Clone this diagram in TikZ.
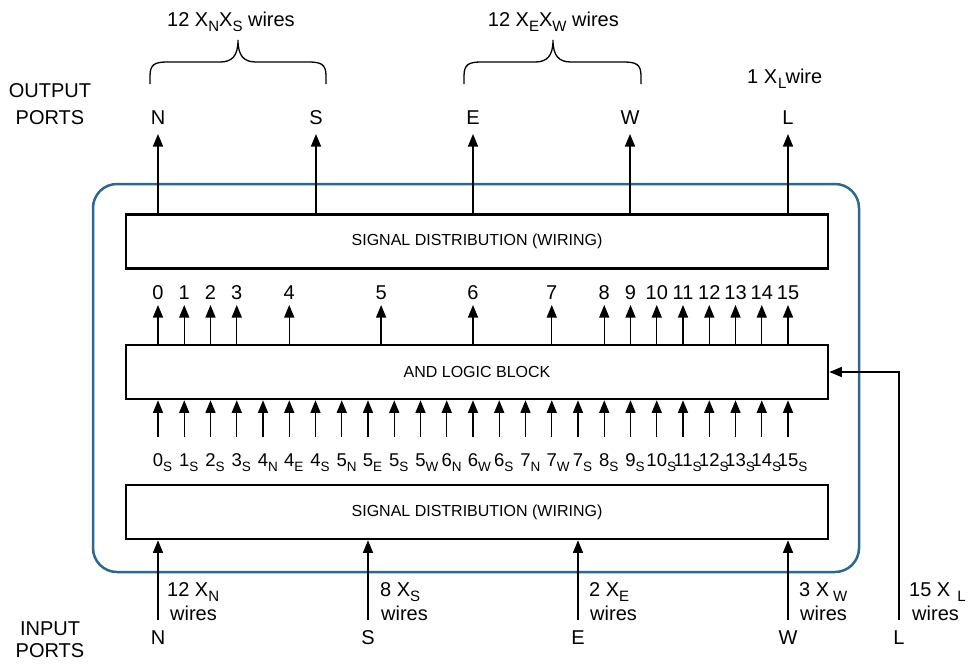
\documentclass[tikz,border=0pt]{standalone}
\usepackage{fontspec}
\setmainfont{Liberation Sans}
\usetikzlibrary{arrows.meta}
\newcommand\sbs[1]{\raisebox{-5.5pt}{\fontsize{15}{15}\selectfont #1}}
\newcommand\sbsm[1]{\raisebox{-5pt}{\fontsize{13.5}{14}\selectfont #1}}
\definecolor{frameblue}{HTML}{2C6894}
\begin{document}
\begin{tikzpicture}[x=1pt,y=-1pt,
  lbl/.style={font=\fontsize{20}{24}\selectfont, inner sep=0pt, anchor=base},
  lblw/.style={lbl, anchor=base west},
  lble/.style={lbl, anchor=base east},
  inlbl/.style={lbl, font=\fontsize{18.5}{22}\selectfont},
  blk/.style={draw, line width=2.6pt, minimum width=702pt, minimum height=54pt, inner sep=0pt, font=\fontsize{16}{16}\selectfont},
  arr/.style={line width=1.3pt, -{Triangle[width=10pt,length=12.5pt]}},
  brc/.style={line width=1.3pt},
]
\useasboundingbox (0,0) rectangle (968,665);

% outer frame
\node[draw=frameblue, line width=2.5pt, rounded corners=24pt, minimum width=766pt, minimum height=388pt, inner sep=0pt] (frame) at (476,378) {};

% blocks
\node[blk] (sdo) at (477,241.3) {SIGNAL DISTRIBUTION (WIRING)};
\node[blk] (andb) at (477,372) {AND LOGIC BLOCK};
\node[blk] (sdi) at (477,512) {SIGNAL DISTRIBUTION (WIRING)};

% output ports
\node[lbl] (outlab1) at (50,97.5) {OUTPUT};
\node[lbl] (outlab2) at (50,124) {PORTS};
\foreach \n/\x in {N/158,S/316,E/473,W/630,L/788} {
  \node[lbl] (o\n) at (\x,124) {\n};
  \coordinate (ot\n) at (\x,134);
  \draw[arr] (sdo.north -| ot\n) -- (ot\n);
}

% braces
\draw[brc] (150,84) -- (150,76) .. controls (150,64) and (155,62) .. (168,62) -- (220,62)
  .. controls (232,62) and (238,56) .. (238,40)
  .. controls (238,56) and (244,62) .. (256,62) -- (308,62)
  .. controls (321,62) and (326,64) .. (326,76) -- (326,84);
\draw[brc] (464,84) -- (464,76) .. controls (464,64) and (469,62) .. (482,62) -- (535,62)
  .. controls (547,62) and (553,56) .. (553,40)
  .. controls (553,56) and (559,62) .. (571,62) -- (623,62)
  .. controls (636,62) and (641,64) .. (641,76) -- (641,84);
\node[lblw] (h1) at (167,26) {12 X\sbs{N}X\sbs{S} wires};
\node[lble] (h2) at (619,26) {12 X\sbs{E}X\sbs{W} wires};
\node[lblw] (h3) at (747,83) {1 X\hspace{1pt}\sbs{L}\hspace{-1pt}wire};

% AND outputs
\foreach \k/\n in {0/0,1/1,2/2,3/3,5/4,8.5/5,12/6,15/7,17/8,18/9,19/10,20/11,21/12,22/13,23/14,24/15} {
  \pgfmathsetmacro\xx{158+26.25*\k}
  \node[lbl] (q\n) at (\xx,299) {\n};
  \coordinate (qt\n) at (\xx,305);
  \draw[arr] (andb.north -| qt\n) -- (qt\n);
}

% AND inputs
\foreach \d/\s [count=\i from 0] in {0/S,1/S,2/S,3/S,4/N,4/E,4/S,5/N,5/E,5/S,5/W,6/N,6/W,6/S,7/N,7/W,7/S,8/S,9/S,10/S,11/S,12/S,13/S,14/S,15/S} {
  \pgfmathsetmacro\xx{158+26.25*\i}
  \node[inlbl] (p\i) at (\xx,466) {\d\rlap{\sbsm{\s}}};
  \coordinate (ps\i) at (\xx,437);
  \draw[arr] (ps\i) -- (andb.south -| ps\i);
}

% input ports
\node[lbl] (inlab1) at (50,635) {INPUT};
\node[lbl] (inlab2) at (50,657) {PORTS};
\foreach \n/\x in {N/158,S/368,E/578,W/788} {
  \node[lbl] (i\n) at (\x,644) {\n};
  \coordinate (is\n) at (\x,620);
  \draw[arr] (is\n) -- (sdi.south -| is\n);
}
\node[lbl] (iL) at (899,644) {L};
\coordinate (isL) at (899,620);
\draw[arr] (isL) |- (andb.east);

% wire counts
\node[lblw] (wN1) at (167,596) {12 X\sbs{N}};
\node[lblw] (wN2) at (170,620) {wires};
\node[lblw] (wS1) at (380,596) {8 X\sbs{S}};
\node[lblw] (wS2) at (381,620) {wires};
\node[lblw] (wE1) at (589,596) {2 X\sbs{E}};
\node[lblw] (wE2) at (590,620) {wires};
\node[lblw] (wW1) at (799,596) {3 X\hspace{4pt}\sbs{W}};
\node[lblw] (wW2) at (800,620) {wires};
\node[lblw] (wL1) at (909,596) {15 X\hspace{7pt}\sbs{L}};
\node[lblw] (wL2) at (912,620) {wires};
\end{tikzpicture}
\end{document}
